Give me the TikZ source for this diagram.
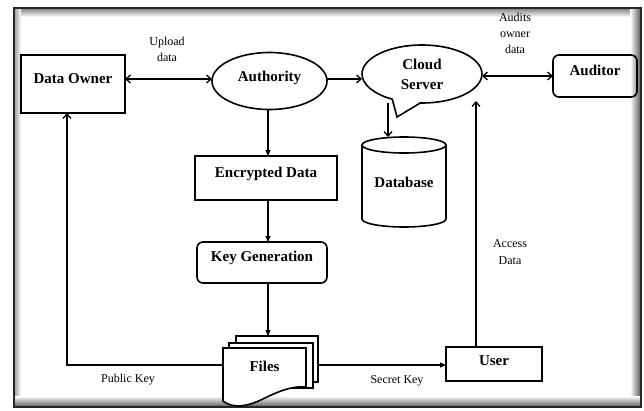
\documentclass[tikz,border=0pt]{standalone}
\usepackage{fontspec}
\setmainfont{Liberation Serif}
\usetikzlibrary{arrows.meta,shapes.geometric,shapes.callouts}
\newcommand\txtup[2]{\raisebox{#1}[10pt][0pt]{#2}}
\begin{document}
\begin{tikzpicture}[x=1pt,y=-1pt,
  nodefont/.style={font=\fontsize{15}{20}\selectfont\bfseries},
  smallfont/.style={font=\fontsize{12}{16}\selectfont},
  shapeline/.style={draw=black, line width=1.6pt},
  rectbox/.style={shapeline, rectangle, inner sep=0pt, outer sep=0pt, nodefont},
  roundbox/.style={rectbox, rounded corners=6pt},
  ovalbox/.style={shapeline, ellipse, inner sep=0pt, outer sep=0pt, nodefont},
  conn/.style={line width=1.3pt},
  barb/.style={conn, -{Straight Barb[length=4.5pt,width=8pt]}},
  barbboth/.style={conn, {Straight Barb[length=4.5pt,width=8pt]}-{Straight Barb[length=4.5pt,width=8pt]}},
  tri/.style={conn, -{Triangle[length=6pt,width=5pt]}},
  lbl/.style={smallfont, align=center, inner sep=0pt},
]
\useasboundingbox (0,0) rectangle (644,410);
% frame
\fill[white] (0,0) rectangle (644,410);
\shade[top color=black!45, bottom color=white] (15,9) rectangle (640,17);
\shade[left color=black!35, right color=white] (15,9) rectangle (21,406);
\shade[left color=white, right color=black!60] (630,9) rectangle (640,406);
\shade[top color=white, bottom color=black!60] (15,396) rectangle (640,406);
\draw[line width=1.8pt, black!85] (14,8) rectangle (641,407);

% files drawing
\draw[shapeline, fill=white] (236,336) rectangle (318,382);
\draw[shapeline, fill=white] (229,343) rectangle (313,388);
\draw[shapeline, fill=white] (223,401) -- (223,348) -- (306,348) -- (306,387)
  .. controls (295,386) and (283,389) .. (265,398)
  .. controls (245,408) and (232,408) .. (223,401) -- cycle;

% database cylinder
\draw[shapeline] (404,145) ellipse [x radius=42pt, y radius=8pt];
\draw[shapeline] (362,145) -- (362,219) arc[start angle=180, end angle=360, x radius=42pt, y radius=8pt] -- (446,145);

% nodes
\node[rectbox, minimum width=104pt, minimum height=58pt] (owner) at (73,84) {\txtup{6pt}{Data Owner}};
\node[ovalbox, minimum width=115pt, minimum height=57pt] (auth) at (269.5,81) {\txtup{5pt}{Authority}};
\node[shapeline, ellipse callout, inner sep=0pt, outer sep=0pt, nodefont, minimum width=120pt, minimum height=58pt,
  callout absolute pointer={(397,117)}, callout pointer arc=28, align=center] (cloud) at (422,74) {Cloud\\Server};
\node[roundbox, minimum width=84pt, minimum height=42pt] (auditor) at (595,76) {\txtup{6pt}{Auditor}};
\node[inner sep=0pt, outer sep=0pt, minimum width=84pt, minimum height=90pt, nodefont] (db) at (404,182) {\txtup{0pt}{Database}};
\node[rectbox, minimum width=142pt, minimum height=44pt] (enc) at (266,178) {\txtup{6pt}{Encrypted Data}};
\node[roundbox, minimum width=130pt, minimum height=41pt] (keygen) at (262,262.5) {\txtup{6.5pt}{Key Generation}};
\node[inner sep=0pt, outer sep=0pt, minimum width=83pt, minimum height=54pt, nodefont] (files) at (264.5,375) {\txtup{9pt}{Files}};
\node[rectbox, minimum width=96pt, minimum height=34pt] (user) at (494,364) {\txtup{4pt}{User}};

% helper coordinates
\coordinate (row1) at (0,79);
\coordinate (row2) at (0,76);
\coordinate (colA) at (268,0);
\coordinate (dcol) at (67,0);
\coordinate (dbcol) at (388,0);
\coordinate (ucol) at (476,0);
\coordinate (frow) at (0,365);
\coordinate (uend) at (476,101);
\coordinate (filestop) at ([yshift=12pt]files.north);
\coordinate (filesright) at ([xshift=12pt]files.east);

% connectors
\draw[barbboth] (owner.east |- row1) -- (auth.west |- row1);
\draw[barb] (auth.east |- row1) -- (cloud.west |- row1);
\draw[barbboth] (cloud.east |- row2) -- (auditor.west |- row2);
\draw[barb] (cloud.south -| dbcol) -- (db.north -| dbcol);
\draw[tri] (auth.south -| colA) -- (enc.north -| colA);
\draw[tri] (enc.south -| colA) -- (keygen.north -| colA);
\draw[tri] (keygen.south -| colA) -- (filestop -| colA);
\draw[barb] (files.west |- frow) -- (dcol |- frow) -- (owner.south -| dcol);
\draw[tri] (filesright |- frow) -- (user.west |- frow);
\draw[barb] (user.north -| ucol) -- (uend);

% labels
\node[lbl] (lupload) at (167,49) {Upload\\data};
\node[lbl] (laudits) at (515,33) {Audits\\owner\\data};
\node[lbl, font=\fontsize{12}{17}\selectfont] (laccess) at (510,252.5) {Access\\Data};
\node[lbl] (lpublic) at (128,380) {Public Key};
\node[lbl] (lsecret) at (397,381) {Secret Key};
\end{tikzpicture}
\end{document}
